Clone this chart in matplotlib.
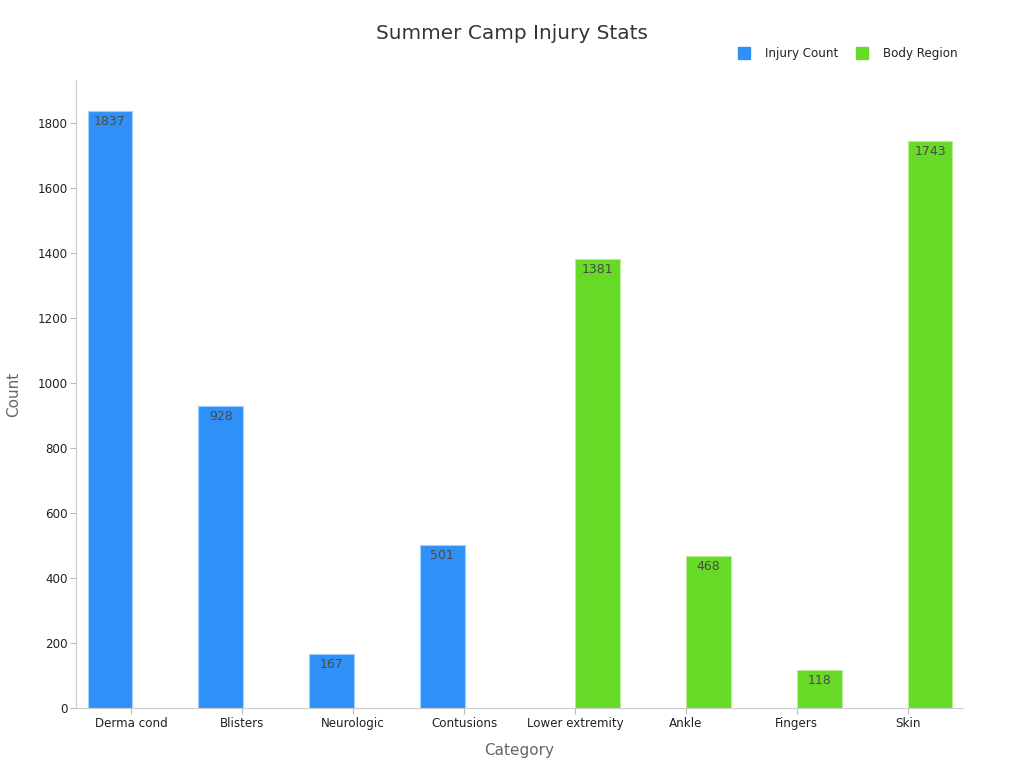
import matplotlib
matplotlib.use("Agg")
import matplotlib.pyplot as plt
import numpy as np

categories = ["Derma cond", "Blisters", "Neurologic", "Contusions",
              "Lower extremity", "Ankle", "Fingers", "Skin"]
injury_count = [1837, 928, 167, 501, None, None, None, None]
body_region = [None, None, None, None, 1381, 468, 118, 1743]

series_names = ["Injury Count", "Body Region"]
colors = ["#2F91F8", "#66DA26"]

plt.rcParams['font.family'] = ['DejaVu Sans']
fig = plt.figure(figsize=(10.24, 7.68), dpi=100)
ax = fig.add_axes([0.0742, 0.078, 0.8662, 0.8178])

x = np.arange(len(categories))
w = 0.4
for vals, off, col, name in [(injury_count, -w, colors[0], series_names[0]),
                             (body_region, 0.0, colors[1], series_names[1])]:
    xs = [xi for xi, v in zip(x, vals) if v is not None]
    vs = [v for v in vals if v is not None]
    bars = ax.bar(np.array(xs) + off + 0.005, vs, width=w, align='edge', color=col,
                  edgecolor="#9fd0ff" if col == colors[0] else "#b5ee95", linewidth=0.8,
                  label=name)
    for b, v in zip(bars, vs):
        ax.text(b.get_x() + b.get_width() / 2, v - 12, str(v), ha='center', va='top',
                fontsize=9, color='#4a4a4a')

ax.set_xlim(-0.5, len(categories) - 0.5)
ax.set_ylim(0, 1932)
ax.set_yticks(np.arange(0, 1801, 200))
ax.set_xticks(x)
ax.set_xticklabels(categories, fontsize=8.6, color='#222222')
ax.tick_params(axis='y', labelsize=8.6, labelcolor='#222222', color='#bbbbbb', length=4, pad=2)
ax.tick_params(axis='x', color='#bbbbbb', length=4, pad=2.5)
for s in ['top', 'right']:
    ax.spines[s].set_visible(False)
for s in ['left', 'bottom']:
    ax.spines[s].set_color('#cccccc')

ax.set_xlabel("Category", fontsize=11, color='#666666', labelpad=9)
ax.set_ylabel("Count", fontsize=11, color='#666666', labelpad=12)
fig.text(0.5, 0.957, "Summer Camp Injury Stats", ha='center', va='center',
         fontsize=14.4, color='#333333')

handles = [plt.Line2D([], [], marker='s', linestyle='none', markersize=8,
                      markerfacecolor=c, markeredgecolor=c) for c in colors]
fig.legend(handles, series_names, loc='center right', bbox_to_anchor=(0.946, 0.93),
           ncol=2, frameon=False, fontsize=8.6, handletextpad=0.95, columnspacing=1.2,
           handlelength=1.6, labelcolor='#222222')

fig.savefig("out.png", dpi=100)
